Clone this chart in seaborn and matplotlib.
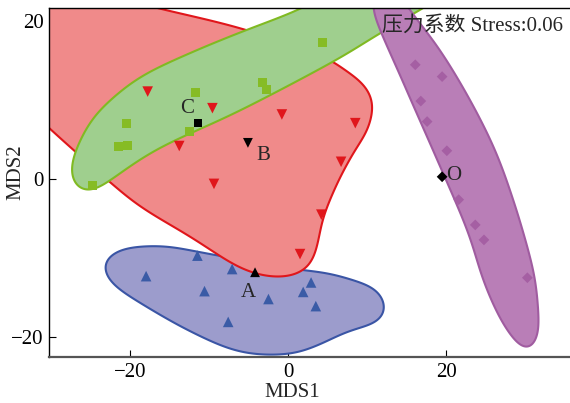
import numpy as np
import pandas as pd
import matplotlib
matplotlib.use("Agg")
import matplotlib.pyplot as plt
import seaborn as sns

# ---- sample scores on the first two NMDS axes ----
groups = ["A", "B", "C", "O"]

a_x = [-18.0, -11.5, -10.6, -7.6, -7.1, -2.5, 1.9, 2.9, 3.5]
a_y = [-12.3, -9.7, -14.2, -18.1, -11.4, -15.2, -14.3, -13.1, -16.1]

b_x = [-17.8, -9.6, -13.8, -9.4, -0.8, 8.5, 6.7, 4.2, 1.5]
b_y = [11.1, 9.0, 4.2, -0.6, 8.2, 7.1, 2.2, -4.5, -9.5]

c_x = [-24.8, -20.5, -20.3, -21.5, -11.8, -12.5, -3.2, -2.8, 4.3]
c_y = [-0.85, 7.1, 4.3, 4.1, 11.0, 6.0, 12.3, 11.4, 17.3]

o_x = [16.1, 19.5, 16.8, 17.6, 20.1, 21.6, 23.7, 24.8, 30.3]
o_y = [14.5, 13.0, 9.9, 7.3, 3.6, -2.6, -5.8, -7.7, -12.5]

# group centroids
cent_x = [-4.2, -5.1, -11.4, 19.5]
cent_y = [-11.8, 4.6, 7.1, 0.3]

# outline of each group's envelope (closed, smoothed below)
a_hull_x = [-23.6, -22.0, -19.6, -15.5, -11.5, -6.1, 0.0, 4.9, 8.2, 11.3, 12.5,
            11.5, 7.5, 3.7, 0.0, -6.1, -12.4, -18.9, -22.5]
a_hull_y = [-10.8, -9.2, -8.6, -8.5, -9.2, -10.2, -11.3, -11.9, -12.8, -14.0, -16.3,
            -18.1, -19.3, -21.1, -22.2, -21.9, -19.3, -15.6, -13.1]

b_hull_x = [-30.3, -27.2, -22.9, -18.7, -12.4, -7.3, -4.8, -2.3, 0.0, 1.1, 2.8, 3.7,
            4.3, 5.3, 6.6, 8.7, 10.0, 10.8, 10.8, 9.5, 6.6, 4.8, -5.6, -16.6, -26.0,
            -33.0, -35.5, -35.0, -33.0]
b_hull_y = [6.5, 3.7, -0.1, -3.5, -7.3, -10.6, -11.8, -12.4, -12.4, -12.1, -11.1, -8.5,
            -5.2, -2.6, 0.3, 4.1, 5.9, 8.8, 10.1, 12.2, 14.2, 15.4, 19.0, 21.7, 24.0,
            24.5, 20.0, 13.0, 9.2]

c_hull_x = [-27.6, -25.3, -22.9, -18.7, -12.4, -6.1, 1.8, 10.0, 18.0, 23.0, 20.0,
            17.1, 11.3, 5.7, -6.1, -16.6, -22.9, -25.2, -27.2]
c_hull_y = [1.8, 7.0, 9.7, 13.0, 16.0, 18.6, 21.7, 26.0, 28.5, 26.5, 23.5,
            21.7, 18.3, 14.9, 8.7, 3.8, -0.4, -1.9, -1.0]

o_hull_x = [11.5, 10.6, 14.6, 18.9, 22.7, 24.7, 26.8, 28.7, 30.4, 31.7, 31.7,
            31.3, 30.3, 28.5, 26.2, 23.0, 19.2, 15.2, 13.5]
o_hull_y = [24.0, 21.7, 12.2, 2.4, -6.5, -12.8, -17.6, -20.5, -22.0, -20.0, -17.0,
            -12.8, -8.6, -2.6, 3.7, 10.1, 16.4, 21.7, 24.3]

stress_label = "压力系数 Stress:0.06"
x_ticks = [-20, 0, 20]
y_ticks = [-20, 0, 20]

marker_colors = {"A": "#3A5BA6", "B": "#E0161B", "C": "#86BC25", "O": "#A55FA3"}
fill_colors = {"A": "#9C9CCC", "B": "#F08A8A", "C": "#9FCF8E", "O": "#B97EB7"}
edge_colors = {"A": "#3A55A5", "B": "#E0161B", "C": "#80BA22", "O": "#A05CA0"}
marker_shapes = {"A": "^", "B": "v", "C": "s", "O": "D"}
marker_sizes = {"A": 58, "B": 58, "C": 42, "O": 30}
smoothness = {"A": 9.0, "B": 14.0, "C": 11.0, "O": 11.0}


def smooth_closed(xs, ys, sigma, n=30, m_out=600):
    """Closed Catmull-Rom curve through the vertices, then low-pass
    filtered in the Fourier domain for an even, rounded outline."""
    p = np.column_stack([xs, ys]).astype(float)
    m = len(p)
    t = np.linspace(0, 1, n, endpoint=False)[:, None]
    segs = []
    for i in range(m):
        p0, p1, p2, p3 = p[(i - 1) % m], p[i], p[(i + 1) % m], p[(i + 2) % m]
        seg = 0.5 * (2 * p1 + (-p0 + p2) * t + (2 * p0 - 5 * p1 + 4 * p2 - p3) * t ** 2
                     + (-p0 + 3 * p1 - 3 * p2 + p3) * t ** 3)
        segs.append(seg)
    c = np.vstack(segs)
    x, y = c[:, 0], c[:, 1]
    d = np.hypot(np.roll(x, -1) - x, np.roll(y, -1) - y)
    s = np.concatenate([[0.0], np.cumsum(d)[:-1]])
    length = d.sum()
    u = np.linspace(0, length, m_out, endpoint=False)
    z = np.interp(u, s, x, period=length) + 1j * np.interp(u, s, y, period=length)
    spec = np.fft.fft(z)
    k = np.fft.fftfreq(m_out, 1.0 / m_out)
    spec *= np.exp(-0.5 * (k / sigma) ** 2)
    z = np.fft.ifft(spec)
    return np.append(z.real, z.real[0]), np.append(z.imag, z.imag[0])


sns.set_style("ticks")
plt.rcParams["font.family"] = ["Liberation Serif", "Noto Sans CJK SC"]
plt.rcParams["axes.unicode_minus"] = True

fig = plt.figure(figsize=(5.70, 4.03), dpi=100)
ax = fig.add_axes([49 / 570, 46 / 403, 521 / 570, 349 / 403])

hulls = {
    "A": (a_hull_x, a_hull_y),
    "B": (b_hull_x, b_hull_y),
    "C": (c_hull_x, c_hull_y),
    "O": (o_hull_x, o_hull_y),
}
for z, g in enumerate(groups):
    hx, hy = smooth_closed(*hulls[g], sigma=smoothness[g])
    ax.fill(hx, hy, facecolor=fill_colors[g], edgecolor=edge_colors[g],
            linewidth=1.5, zorder=1 + z)

scores = pd.DataFrame({
    "MDS1": a_x + b_x + c_x + o_x,
    "MDS2": a_y + b_y + c_y + o_y,
    "group": ["A"] * len(a_x) + ["B"] * len(b_x) + ["C"] * len(c_x) + ["O"] * len(o_x),
})
sns.scatterplot(data=scores, x="MDS1", y="MDS2", hue="group", style="group",
                size="group", palette=marker_colors, markers=marker_shapes,
                sizes=marker_sizes, linewidth=0, legend=False, ax=ax, zorder=6)

centroids = pd.DataFrame({"MDS1": cent_x, "MDS2": cent_y, "group": groups})
sns.scatterplot(data=centroids, x="MDS1", y="MDS2", style="group", size="group",
                markers=marker_shapes, sizes={"A": 50, "B": 50, "C": 36, "O": 30},
                color="black", linewidth=0, legend=False, ax=ax, zorder=7)

label_offsets = {"A": (-5, -18), "B": (11, -12), "C": (-8, 7), "O": (8, -2)}
for g, cx, cy in zip(groups, cent_x, cent_y):
    ax.annotate(g, (cx, cy), xytext=label_offsets[g], textcoords="offset points",
                ha="center", va="baseline", fontsize=15, zorder=8)

ax.text(0.987, 0.948, stress_label, transform=ax.transAxes, ha="right",
        va="center", fontsize=15, zorder=9)

ax.set_xlim(-30.3, 35.7)
ax.set_ylim(-22.55, 21.7)
ax.set_xticks(x_ticks)
ax.set_yticks(y_ticks)
ax.tick_params(direction="in", length=5, width=0.8, labelsize=15, pad=4,
               colors="black")

ax.set_xlabel("MDS1", fontsize=15)
ax.set_ylabel("MDS2", fontsize=15)
ax.xaxis.set_label_coords(0.466, -0.074)
ax.yaxis.set_label_coords(-0.046, 0.53)

for side in ("left", "top"):
    ax.spines[side].set_color("black")
    ax.spines[side].set_linewidth(1.0)
ax.spines["bottom"].set_color("#555555")
ax.spines["bottom"].set_linewidth(1.6)
ax.spines["right"].set_visible(False)
for s in ax.spines.values():
    s.set_zorder(10)

fig.savefig("out.png", dpi=100)
